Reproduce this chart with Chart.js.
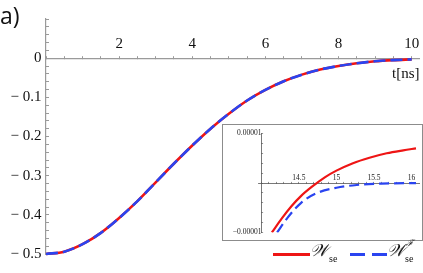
<!DOCTYPE html>
<html>
<head>
<meta charset="utf-8">
<script src="https://cdn.jsdelivr.net/npm/chart.js@4/dist/chart.umd.min.js"></script>
<style>
  html, body { margin: 0; padding: 0; background: #fff; }
  #wrap { position: relative; width: 423px; height: 273px; overflow: hidden; }
  #main { position: absolute; left: 0; top: 0; }
  #insetBox { position: absolute; left: 222px; top: 124px; width: 201px; height: 117px; box-sizing: border-box; border: 1px solid #8c8c8c; background: #fff; }
  #inset { position: absolute; left: 0; top: 0; }
  .txt { position: absolute; white-space: nowrap; color: #111; line-height: 1; }
  .serif { font-family: "Liberation Serif", "Times New Roman", "DejaVu Serif", serif; }
</style>
</head>
<body>
<div id="wrap">
  <canvas id="main" width="423" height="273"></canvas>
  <div id="insetBox"><canvas id="inset" width="199" height="115"></canvas></div>

  <span class="txt" id="panel" style="left:0px;top:4px;font-family:'Open Sans',sans-serif;font-size:23px;">a)</span>
  <span class="txt serif" id="xTitle" style="left:392px;top:66px;font-size:15px;">t[ns]</span>

  <!-- legend -->
  <div style="position:absolute;left:273px;top:253px;width:37px;height:2.5px;background:#ee1515;"></div>
  <span class="txt serif" style="left:310px;top:242px;font-size:17px;font-style:italic;">𝒲</span>
  <span class="txt serif" style="left:329px;top:254px;font-size:10px;">se</span>
  <div style="position:absolute;left:350px;top:253px;width:37px;height:2.5px;background:linear-gradient(90deg,#2a44f0 0 15px,transparent 15px 22px,#2a44f0 22px 37px);"></div>
  <span class="txt serif" style="left:387px;top:242px;font-size:17px;font-style:italic;">𝒲</span>
  <span class="txt serif" style="left:406px;top:239px;font-size:9px;font-style:italic;">ℱ</span>
  <span class="txt serif" style="left:405px;top:254px;font-size:10px;">se</span>
</div>
<script>
// ---------- Data ----------
const RED = "#ee1515";
const BLUE = "#2a44f0";
const AXIS = "#9a9a9a";

// main panel: W_se and W_se^F vs t [ns] (the two curves coincide at this scale)
const tValues = [0, 0.5, 1, 1.5, 2, 2.5, 3, 3.5, 4, 4.5, 5, 5.5, 6, 6.5, 7, 7.5, 8, 8.5, 9, 9.5, 10];
const wse     = [-0.500, -0.494, -0.475, -0.446, -0.408, -0.365, -0.317, -0.269, -0.223, -0.180, -0.142, -0.108, -0.081, -0.059, -0.042, -0.029, -0.020, -0.013, -0.008, -0.005, -0.003];
const wseF    = [-0.500, -0.494, -0.475, -0.446, -0.408, -0.365, -0.317, -0.269, -0.223, -0.180, -0.142, -0.108, -0.081, -0.059, -0.042, -0.029, -0.020, -0.013, -0.008, -0.005, -0.003];

const mainXLabelValues = [2, 4, 6, 8, 10];
const mainYLabelValues = [0, -0.1, -0.2, -0.3, -0.4, -0.5];
const mainYLabelTexts  = ["0", "\u2212 0.1", "\u2212 0.2", "\u2212 0.3", "\u2212 0.4", "\u2212 0.5"];

// inset: zoom around t = 14..16
const insetRedT  = [14.14, 14.27, 14.40, 14.53, 14.67, 14.85, 15.00, 15.22, 15.44, 15.67, 15.89, 16.06];
const insetRedW  = [-1.00e-5, -0.72e-5, -0.47e-5, -0.26e-5, -0.08e-5, 0.12e-5, 0.25e-5, 0.40e-5, 0.51e-5, 0.60e-5, 0.66e-5, 0.70e-5];
const insetBlueT = [14.21, 14.35, 14.53, 14.73, 15.00, 15.27, 15.60, 16.06];
const insetBlueW = [-1.00e-5, -0.70e-5, -0.40e-5, -0.21e-5, -0.095e-5, -0.04e-5, -0.012e-5, -0.002e-5];

const insetXLabelValues = [14.5, 15, 15.5, 16];
const insetYLabelValues = [1e-5, -1e-5];
const insetYLabelTexts  = ["0.00001", "\u22120.00001"];

// ---------- helpers ----------
const range = (a, b, step) => {
  const out = [];
  const n = Math.round((b - a) / step);
  for (let i = 0; i <= n; i++) out.push(+(a + i * step).toFixed(8));
  return out;
};
const near = (a, b, eps) => Math.abs(a - b) < eps;
const pts = (xs, ys) => xs.map((x, i) => ({ x, y: ys[i] }));
const serif = (size) => ({ family: "'Liberation Serif', 'Times New Roman', 'DejaVu Serif', serif", size });

// ---------- Main chart ----------
new Chart(document.getElementById("main"), {
  type: "line",
  data: {
    datasets: [
      { label: "W_se^F", data: pts(tValues, wseF), borderColor: BLUE, borderWidth: 2.6, borderDash: [12, 5], order: 0 },
      { label: "W_se",   data: pts(tValues, wse),  borderColor: RED,  borderWidth: 2.6, order: 1 },
    ],
  },
  options: {
    responsive: false,
    animation: false,
    layout: { padding: { left: 0, top: 19, right: 4, bottom: 19 } },
    elements: { point: { radius: 0 }, line: { cubicInterpolationMode: "monotone", fill: false } },
    datasets: { line: { clip: false } },
    plugins: { legend: { display: false }, tooltip: { enabled: false } },
    scales: {
      x: {
        type: "linear",
        min: 0, max: 10.2,
        position: { y: 0 },
        afterBuildTicks: (s) => { s.ticks = range(0, 10, 0.5).map((v) => ({ value: v })); },
        ticks: {
          autoSkip: false, maxRotation: 0, padding: -20,
          font: serif(15), color: "#111",
          callback: (v) => (mainXLabelValues.some((l) => near(l, v, 1e-6)) ? String(v) : ""),
        },
        grid: { drawOnChartArea: false, drawTicks: true, tickLength: -3, tickColor: AXIS, tickWidth: 1 },
        border: { color: AXIS, width: 1.2 },
      },
      y: {
        type: "linear",
        min: -0.5, max: 0.1,
        position: "left",
        afterFit: (s) => { s.width = 46; },
        afterBuildTicks: (s) => { s.ticks = range(-0.5, 0.1, 0.02).map((v) => ({ value: v })); },
        ticks: {
          autoSkip: false, padding: 7.5,
          font: serif(15), color: "#111",
          callback: (v) => {
            const i = mainYLabelValues.findIndex((l) => near(l, v, 1e-6));
            return i >= 0 ? mainYLabelTexts[i] : "";
          },
        },
        grid: { drawOnChartArea: false, drawTicks: true, tickLength: -3, tickColor: AXIS, tickWidth: 1 },
        border: { color: AXIS, width: 1.2 },
      },
    },
  },
});

// ---------- Inset chart ----------
new Chart(document.getElementById("inset"), {
  type: "line",
  data: {
    datasets: [
      { label: "W_se",   data: pts(insetRedT, insetRedW),   borderColor: RED,  borderWidth: 2.2 },
      { label: "W_se^F", data: pts(insetBlueT, insetBlueW), borderColor: BLUE, borderWidth: 2.2, borderDash: [10, 5] },
    ],
  },
  options: {
    responsive: false,
    animation: false,
    layout: { padding: { left: 35, top: 8.5, right: 3, bottom: 7.5 } },
    elements: { point: { radius: 0 }, line: { cubicInterpolationMode: "monotone", fill: false } },
    plugins: { legend: { display: false }, tooltip: { enabled: false } },
    scales: {
      x: {
        type: "linear",
        min: 13.955, max: 16.1,
        position: { y: 0 },
        afterBuildTicks: (s) => { s.ticks = range(14, 16, 0.1).map((v) => ({ value: v })); },
        ticks: {
          autoSkip: false, maxRotation: 0, padding: -7.5,
          font: serif(7.5), color: "#222",
          callback: (v) => (insetXLabelValues.some((l) => near(l, v, 1e-6)) ? String(v) : ""),
        },
        grid: { drawOnChartArea: false, drawTicks: true, tickLength: -2, tickColor: "#777", tickWidth: 0.8 },
        border: { color: "#555", width: 0.8 },
      },
      y: {
        type: "linear",
        min: -1e-5, max: 1e-5,
        position: { x: 14 },
        afterBuildTicks: (s) => { s.ticks = range(-1, 1, 0.2).map((v) => ({ value: v * 1e-5 })); },
        ticks: {
          autoSkip: false, padding: 0,
          font: serif(7.5), color: "#222",
          callback: (v) => {
            const i = insetYLabelValues.findIndex((l) => near(l, v, 1e-9));
            return i >= 0 ? insetYLabelTexts[i] : "";
          },
        },
        grid: { drawOnChartArea: false, drawTicks: true, tickLength: -2, tickColor: "#777", tickWidth: 0.8 },
        border: { color: "#555", width: 0.8 },
      },
    },
  },
});
</script>
</body>
</html>
